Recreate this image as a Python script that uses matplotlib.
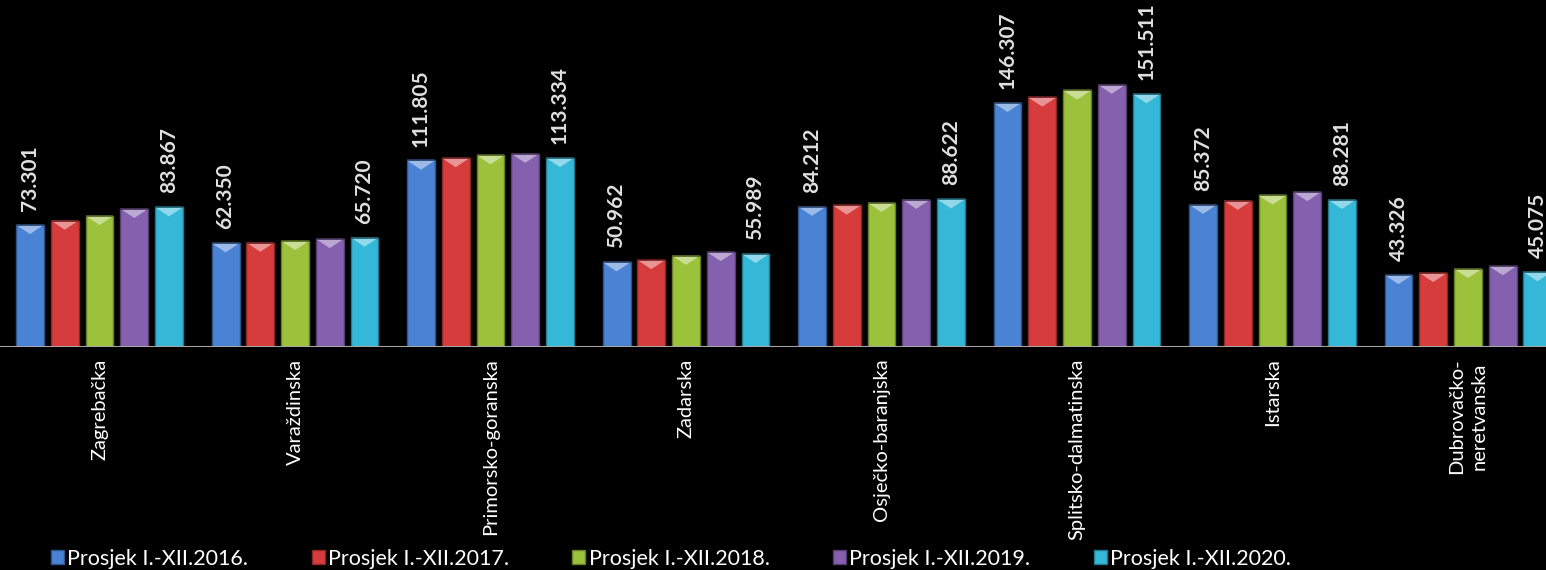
"""Average per county, 2016-2020, grouped bars on black background."""

import matplotlib
matplotlib.use("Agg")
import matplotlib.pyplot as plt
from matplotlib.patches import Patch
import numpy as np

COUNTIES = [
    "Zagrebačka",
    "Varaždinska",
    "Primorsko-goranska",
    "Zadarska",
    "Osječko-baranjska",
    "Splitsko-dalmatinska",
    "Istarska",
    "Dubrovačko-\nneretvanska",
]
SERIES = [
    "Prosjek I.-XII.2016.",
    "Prosjek I.-XII.2017.",
    "Prosjek I.-XII.2018.",
    "Prosjek I.-XII.2019.",
    "Prosjek I.-XII.2020.",
]
Y2016 = [73.301, 62.350, 111.805, 50.962, 84.212, 146.307, 85.372, 43.326]
Y2017 = [75.9, 62.7, 113.3, 52.3, 84.9, 149.5, 87.8, 44.6]
Y2018 = [78.7, 63.7, 115.0, 54.9, 86.5, 153.7, 90.9, 47.0]
Y2019 = [82.9, 64.9, 115.9, 57.1, 88.4, 157.2, 93.0, 48.7]
Y2020 = [83.867, 65.720, 113.334, 55.989, 88.622, 151.511, 88.281, 45.075]
LABELLED = {0, 4}  # only first and last series carry value labels

COLORS = ["#4a82d4", "#d63c3c", "#9cc23c", "#8460ae", "#35b8d8"]
FONT = "Lato"


def darker(hex_color, f=0.65):
    rgb = np.array(matplotlib.colors.to_rgb(hex_color))
    return tuple(rgb * f)


def lighter(hex_color, f=0.45):
    rgb = np.array(matplotlib.colors.to_rgb(hex_color))
    return tuple(rgb + (1 - rgb) * f)


def main():
    plt.rcParams["font.family"] = [FONT, "DejaVu Sans"]
    fig = plt.figure(figsize=(15.46, 5.70), dpi=100, facecolor="black")
    ax = fig.add_axes([0.0, 0.3905, 1.0, 0.6095], facecolor="black")

    values = [Y2016, Y2017, Y2018, Y2019, Y2020]
    x = np.arange(len(COUNTIES))
    pitch = 0.1777
    width = 0.143
    for i, (vals, color) in enumerate(zip(values, COLORS)):
        xs = x + (i - 2) * pitch
        ax.bar(xs, vals, width=width, color=color, edgecolor=darker(color),
               linewidth=1.0, zorder=2)
        # bevel highlight at the top of every bar
        for xc, v in zip(xs, vals):
            h = 5.5
            ax.fill([xc - width / 2, xc + width / 2, xc],
                    [v, v, v - h], color=lighter(color), lw=0, zorder=3)
            ax.plot([xc - width / 2, xc + width / 2], [v, v],
                    color=darker(color, 0.5), lw=1.2, zorder=4,
                    solid_capstyle="butt")
        if i in LABELLED:
            for xc, v in zip(xs, vals):
                ax.annotate(f"{v:.3f}", (xc, v), xytext=(0, 10),
                            textcoords="offset points", rotation=90,
                            ha="center", va="bottom", color="#e0e0e0",
                            fontsize=15, fontweight="bold")

    ax.set_xlim(-0.509, 7.399)
    ax.set_ylim(0, 207.8)
    ax.axhline(0, color="#a6a6a6", lw=2.2, zorder=5)
    for side in ax.spines.values():
        side.set_visible(False)
    ax.set_yticks([])
    ax.set_xticks(x)
    ax.set_xticklabels(COUNTIES, rotation=90, va="top", ha="center",
                       color="white", fontsize=14.5, linespacing=1.35)
    ax.tick_params(axis="x", length=0, pad=8)

    handles = [Patch(facecolor=c, edgecolor=darker(c)) for c in COLORS]
    fig.legend(handles, SERIES, loc="lower left", ncol=5, frameon=False,
               bbox_to_anchor=(0.0275, -0.013, 0.813, 0.05), mode="expand",
               handlelength=0.6, handleheight=0.6, handletextpad=0.15,
               fontsize=15.5, labelcolor="white", borderaxespad=0)

    fig.savefig("out.png", dpi=100, facecolor="black")


if __name__ == "__main__":
    main()
